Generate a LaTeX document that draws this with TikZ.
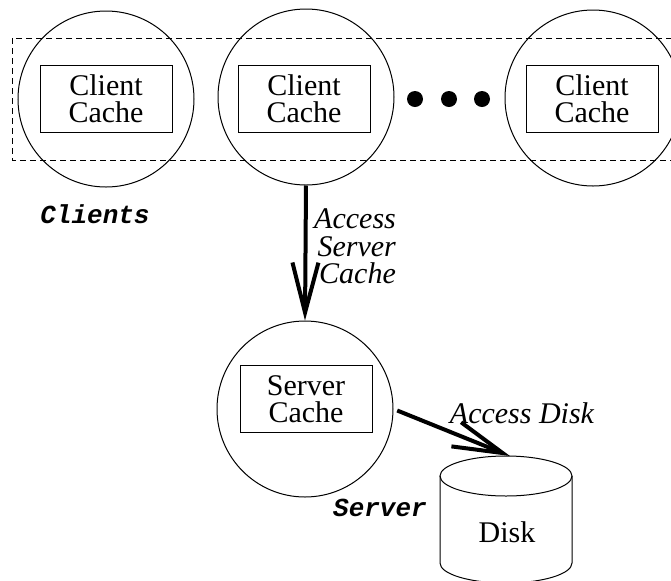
\documentclass[tikz,border=0pt]{standalone}
\usepackage{fontspec}
\setmainfont{Liberation Serif}
\setmonofont{Liberation Mono}
\usetikzlibrary{arrows.meta}

\tikzset{
  host/.style={circle, draw, line width=0.5pt, minimum size=88pt, inner sep=0pt},
  cachebox/.style={draw, line width=0.5pt, minimum width=66pt, minimum height=33.5pt,
    align=center, inner sep=0pt, font=\fontsize{15}{13.5}\selectfont},
  tag/.style={font=\fontsize{13}{15}\selectfont\ttfamily\bfseries\itshape},
  lbl/.style={font=\fontsize{15}{13.8}\selectfont\itshape, align=right},
  req/.style={line width=2pt, -{Straight Barb[length=25pt,width=13pt]}}
}

\begin{document}
\begin{tikzpicture}[x=0.5pt, y=-0.5pt]
  \useasboundingbox (0,0) rectangle (671,580);

  % client row
  \draw[line width=0.5pt, dash pattern=on 3pt off 2pt] (12,38) rectangle (690,160);
  \node[host] (client1) at (106,99) {};
  \node[host] (client2) at (306,97) {};
  \node[host] (client3) at (593,98) {};
  \node[cachebox] (cache1) at (106,99) {Client\\Cache};
  \node[cachebox] (cache2) at (304,99) {Client\\Cache};
  \node[cachebox] (cache3) at (592,99) {Client\\Cache};
  \foreach \x in {415,449,482}
    \fill (\x,99) circle (8);
  \node[tag] (clients) at (95,214) {Clients};

  % server
  \node[host] (server) at (305,409) {};
  \node[cachebox] (srvcache) at (306,399) {Server\\Cache};
  \node[tag] (srvtag) at (380,508) {Server};

  % disk
  \coordinate (disktop) at (510,456);
  \draw[line width=0.5pt] (506,476) ellipse [x radius=66, y radius=20];
  \draw[line width=0.5pt] (440,476) -- (440,563)
    arc [start angle=180, end angle=0, x radius=66, y radius=20] -- (572,476);
  \node (disk) at (507,532) {\fontsize{15}{18}\selectfont Disk};

  \draw[req] (client2.south) -- (server.north)
    node[lbl, pos=0.45, right] {Access\\Server\\Cache};
  \draw[req, shorten <=2pt] (server.east) -- (disktop);
  \node[lbl] (diskreq) at (522,413) {Access Disk};
\end{tikzpicture}
\end{document}
